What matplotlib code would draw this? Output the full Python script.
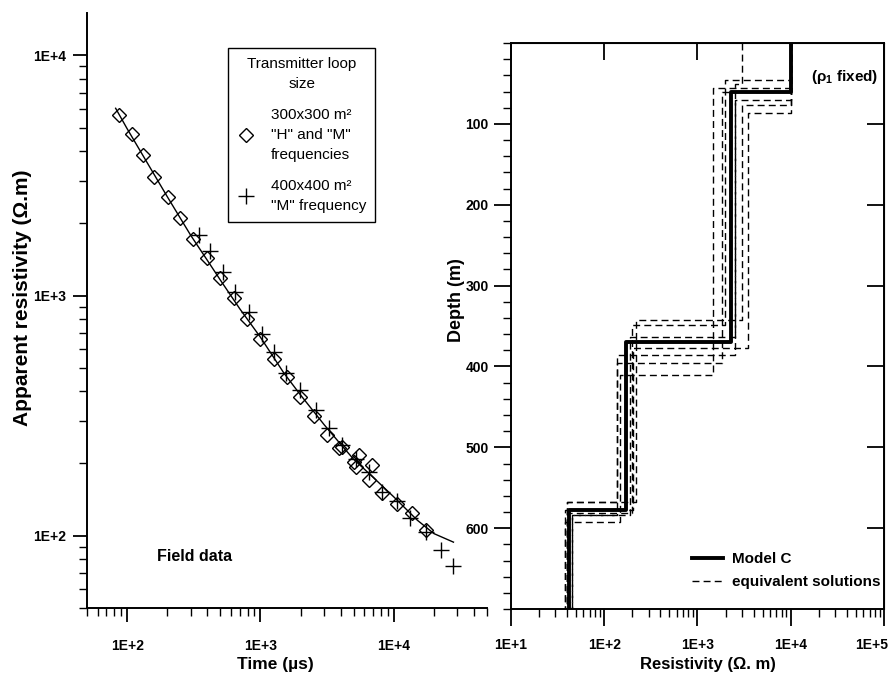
import matplotlib
matplotlib.use("Agg")
import math
import matplotlib.pyplot as plt
import matplotlib.transforms as mtrans
from matplotlib.ticker import LogLocator, NullFormatter, NullLocator, MultipleLocator, FixedLocator, FuncFormatter

plt.rcParams['font.family'] = ['Liberation Sans', 'DejaVu Sans']
plt.rcParams['mathtext.fontset'] = 'custom'
plt.rcParams['mathtext.rm'] = 'Liberation Sans:bold'
plt.rcParams['mathtext.it'] = 'Liberation Sans:bold'
plt.rcParams['mathtext.bf'] = 'Liberation Sans:bold'
plt.rcParams['mathtext.default'] = 'bf'

# Данные: кривая кажущегося сопротивления
diam_t = [87.5, 108, 131, 160, 202, 251, 310, 398, 495, 631, 794, 1000, 1260, 1585,
          1995, 2512, 3160, 3870, 4100, 5010, 5160, 5460, 6490, 6890, 8180, 10500,
          13700, 17300]
diam_rho = [5620, 4690, 3850, 3125, 2560, 2093, 1718, 1430, 1180, 975, 800, 661, 546, 458,
            378, 315, 262, 231, 235, 203, 194, 217, 171, 197, 150, 135,
            124, 106]
cross_t = [348, 417, 525, 649, 817, 1030, 1260, 1567, 1973, 2588, 3250, 4100, 5160,
           6490, 8180, 10600, 13300, 17300, 22400, 27900]
cross_rho = [1787, 1538, 1250, 1032, 853, 693, 582, 474, 404, 333, 280, 239, 209,
             184, 152, 139, 118, 104, 87.5, 74.6]
fit_t = [82, 100, 150, 200, 300, 400, 500, 700, 1000, 1500, 2000, 3000, 4000, 5000,
         7000, 10000, 15000, 20000, 28000]
fit_rho = [6020, 4950, 3380, 2580, 1780, 1400, 1160, 880, 670, 475, 385, 290, 240, 208,
           175, 145, 116, 102, 94]

# Данные: модель C и эквивалентные решения (сопротивления слоёв, глубины границ)
model_rho = [10000, 2300, 170, 42]
model_depth = [61, 370, 577]
equiv_rho = [
    [10000, 1970, 200, 40],
    [3000, 2510, 190, 45],
    [10000, 1470, 148, 38],
    [10000, 1830, 136, 40],
    [10000, 3000, 217, 40],
    [10000, 3470, 202, 38],
    [10000, 2510, 136, 45],
]
equiv_depth = [
    [46, 349, 581],
    [50, 364, 584],
    [56, 411, 592],
    [61, 396, 568],
    [77, 343, 568],
    [86, 377, 577],
    [70, 386, 584],
]
max_depth = 700


def profile(rho, depth):
    tops = [0] + depth
    bots = depth + [max_depth]
    xs, ys = [], []
    for r, t, b in zip(rho, tops, bots):
        xs += [r, r]
        ys += [t, b]
    return xs, ys


def efmt(v, pos):
    e = int(round(math.log10(v)))
    return f"1E+{e}"


dash = (0, (5, 3))

fig = plt.figure(figsize=(8.93, 6.73), dpi=100)

# Левый график
ax = fig.add_axes([0.0974, 0.0966, 0.448, 0.884])
ax.plot(fit_t, fit_rho, color='black', lw=1.0, zorder=2)
ax.plot(diam_t, diam_rho, linestyle='none', marker='D', markersize=7.5, mfc='none',
        mec='black', mew=1.0, zorder=3,
        label='300x300 m²\n"H" and "M"\nfrequencies')
ax.plot(cross_t, cross_rho, linestyle='none', marker='+', markersize=12,
        mec='black', mew=1.0, zorder=3,
        label='400x400 m²\n"M" frequency')
ax.set_xscale('log')
ax.set_yscale('log')
ax.set_xlim(50, 50000)
ax.set_ylim(50, 15000)
for s in ['top', 'right']:
    ax.spines[s].set_visible(False)
for s in ['left', 'bottom']:
    ax.spines[s].set_linewidth(1.4)
ax.xaxis.set_major_locator(FixedLocator([100, 1000, 10000]))
ax.yaxis.set_major_locator(FixedLocator([100, 1000, 10000]))
ax.xaxis.set_minor_locator(LogLocator(base=10, subs=range(2, 10)))
ax.yaxis.set_minor_locator(LogLocator(base=10, subs=range(2, 10)))
ax.xaxis.set_major_formatter(FuncFormatter(efmt))
ax.yaxis.set_major_formatter(FuncFormatter(efmt))
ax.xaxis.set_minor_formatter(NullFormatter())
ax.yaxis.set_minor_formatter(NullFormatter())
ax.tick_params(which='major', direction='out', length=10, width=1.3)
ax.tick_params(axis='x', which='major', pad=12)
ax.tick_params(axis='y', which='major', pad=5)
ax.tick_params(which='minor', direction='out', length=6, width=1.0)
for lab in ax.get_xticklabels() + ax.get_yticklabels():
    lab.set_fontsize(10)
    lab.set_fontweight('bold')
ax.set_xlabel('Time (µs)', fontsize=12.5, fontweight='bold')
ax.xaxis.set_label_coords(0.47, -0.083)
ax.set_ylabel('Apparent resistivity (Ω.m)', fontsize=15, fontweight='bold', va='center')
ax.yaxis.set_label_coords(-0.162, 0.521)
ax.text(0.175, 0.087, 'Field data', transform=ax.transAxes, fontsize=11.5,
        fontweight='bold', va='center', ha='left')
leg = ax.legend(title='Transmitter loop\nsize', loc='upper left',
                bbox_to_anchor=(0.3525, 0.941), borderaxespad=0, frameon=True,
                fancybox=False, edgecolor='black', framealpha=1, borderpad=0.6,
                labelspacing=1.1, handletextpad=1.0, handlelength=1.2,
                alignment='center', prop={'size': 11}, title_fontproperties={'size': 11})
leg.get_frame().set_linewidth(1.0)
for t in leg.get_texts():
    t.set_linespacing(1.55)
leg.get_title().set_linespacing(1.55)
leg.get_title().set_multialignment('center')

# Правый график
bx = fig.add_axes([0.572, 0.095, 0.418, 0.841])
for r, d in zip(equiv_rho, equiv_depth):
    xs, ys = profile(r, d)
    bx.plot(xs, ys, color='black', lw=1.0, linestyle=dash, zorder=2)
xs, ys = profile(model_rho, model_depth)
bx.plot(xs, ys, color='black', lw=2.8, zorder=3, label='Model C')
bx.plot([], [], color='black', lw=1.0, linestyle=dash, label='equivalent solutions')
bx.set_xscale('log')
bx.set_xlim(10, 100000)
bx.set_ylim(max_depth, 0)
for s in bx.spines.values():
    s.set_linewidth(1.4)
bx.xaxis.set_major_locator(FixedLocator([10, 100, 1000, 10000, 100000]))
bx.xaxis.set_minor_locator(LogLocator(base=10, subs=range(2, 10)))
bx.xaxis.set_major_formatter(FuncFormatter(efmt))
bx.xaxis.set_minor_formatter(NullFormatter())
bx.yaxis.set_major_locator(FixedLocator([100, 200, 300, 400, 500, 600]))
bx.yaxis.set_minor_locator(MultipleLocator(20))
bx.tick_params(which='major', direction='out', length=12, width=1.3)
bx.tick_params(axis='x', which='major', pad=9)
bx.tick_params(axis='y', which='major', pad=4)
bx.tick_params(which='minor', direction='out', length=6, width=1.0)
xlabs = bx.get_xticklabels()
for lab in xlabs + bx.get_yticklabels():
    lab.set_fontsize(10)
    lab.set_fontweight('bold')
# последняя подпись у края рисунка — слегка сдвинуть влево
xlabs[-1].set_transform(xlabs[-1].get_transform() +
                        mtrans.ScaledTranslation(-12 / 100, 0, fig.dpi_scale_trans))
sx = bx.secondary_xaxis('top')
sx.xaxis.set_major_locator(FixedLocator([10, 100, 1000, 10000, 100000]))
sx.xaxis.set_minor_locator(NullLocator())
sx.tick_params(direction='in', length=12, width=1.3, labeltop=False)
sy = bx.secondary_yaxis('right')
sy.yaxis.set_major_locator(FixedLocator([100, 200, 300, 400, 500, 600]))
sy.yaxis.set_minor_locator(NullLocator())
sy.tick_params(direction='in', length=12, width=1.3, labelright=False)
bx.set_xlabel('Resistivity (Ω. m)', fontsize=12, fontweight='bold')
bx.xaxis.set_label_coords(0.528, -0.085)
bx.set_ylabel('Depth (m)', fontsize=13, fontweight='bold', va='center')
bx.yaxis.set_label_coords(-0.145, 0.546)
bx.text(0.985, 0.94, r'($\rho_1$ fixed)', transform=bx.transAxes, fontsize=11,
        fontweight='bold', ha='right', va='center')
bx.legend(loc='lower right', bbox_to_anchor=(0.99, 0.035), borderaxespad=0,
          borderpad=0, frameon=False, prop={'size': 11, 'weight': 'bold'},
          handlelength=2.0, labelspacing=0.6, handletextpad=0.6)

plt.savefig('out.png', dpi=100)
